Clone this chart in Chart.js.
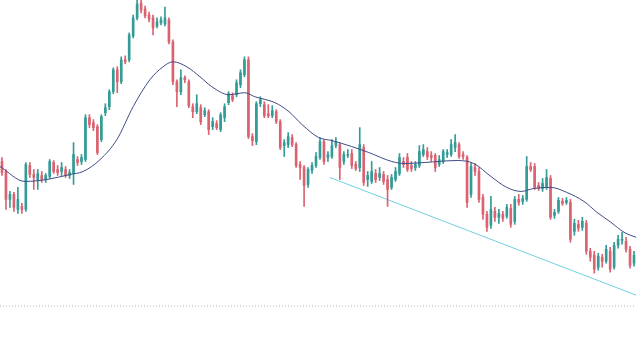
<!DOCTYPE html>
<html>
<head>
<meta charset="utf-8">
<script src="https://cdn.jsdelivr.net/npm/chart.js@4/dist/chart.umd.min.js"></script>
<style>
html,body{margin:0;padding:0;background:#fff;overflow:hidden}
#c{display:block}
</style>
</head>
<body>
<canvas id="c" width="636" height="339"></canvas>
<script>
// Candle OHLC values (price units), one per bar
const opens = [178,168,140,145,130,133,130,174,165,160,164,160,163,177,170,168,170,164,166,180,
178,180,222,217,213,200,227,233,248,270,258,280,280,304,322,337,331,325,322,314,
317,316,320,298,258,248,262,258,233,228,232,225,228,213,216,210,222,237,244,245,
255,265,280,203,198,236,235,226,224,228,218,194,195,202,195,175,172,155,169,174,
182,198,182,183,194,195,178,184,186,175,172,192,160,158,166,162,165,160,152,160,
166,178,182,174,172,174,185,188,184,184,175,178,185,185,192,195,185,182,145,172,
168,142,125,114,128,122,125,123,131,118,140,138,140,173,173,154,151,152,161,124,
128,138,137,137,108,115,112,116,88,84,72,82,78,88,72,94,99,98,90,76];
const highs = [182,170,148,147,152,136,177,177,170,170,168,166,180,179,174,177,173,170,197,183,
185,225,225,220,215,225,236,250,272,273,283,284,307,325,340,340,334,328,325,322,
323,333,322,300,260,270,264,260,236,245,235,232,230,222,219,227,236,248,247,260,
270,283,283,206,238,243,238,235,234,230,220,200,207,205,197,178,174,172,177,187,
202,200,188,200,202,197,188,190,190,178,212,195,168,178,170,172,168,164,165,172,
186,182,186,178,178,194,195,192,188,186,184,190,190,200,205,197,188,184,177,176,
172,145,128,143,132,130,128,135,135,143,145,144,183,177,176,157,161,170,164,130,
142,141,142,140,120,119,122,119,91,88,86,85,94,92,97,104,107,102,93,88];
const lows = [164,130,132,128,126,126,128,162,150,150,157,157,161,166,164,164,162,161,155,174,
175,178,212,209,185,198,224,230,246,247,256,276,278,302,320,327,322,318,305,312,
315,314,296,255,233,245,257,232,222,226,215,223,205,210,210,208,218,235,238,243,
252,263,201,194,195,233,222,222,222,216,190,183,192,193,172,160,133,152,166,172,
180,175,178,181,192,160,175,182,171,169,168,154,153,156,157,159,155,133,150,158,
164,172,168,168,169,172,183,180,178,168,173,176,182,183,188,181,180,132,142,164,
137,120,108,111,118,116,118,121,112,115,134,135,138,168,150,149,148,150,120,121,
126,134,135,97,104,108,109,85,78,66,69,72,76,67,70,91,95,87,71,73];
const closes = [167,140,145,132,140,130,175,165,162,166,160,164,178,168,167,172,164,167,185,177,
182,222,215,212,187,223,232,248,270,258,280,278,305,322,336,330,324,321,312,318,
320,322,298,258,248,262,260,234,228,236,218,229,210,218,212,225,233,246,240,257,
267,280,203,199,236,240,224,224,229,218,192,197,203,195,174,172,154,170,174,183,
198,178,185,194,198,172,185,185,174,171,195,157,164,168,160,166,158,150,162,168,
182,175,170,171,175,188,190,183,182,172,180,188,187,195,197,183,183,137,173,168,
140,125,112,130,122,126,121,132,115,140,137,141,173,170,152,151,156,162,122,127,
139,136,139,100,116,111,118,88,82,70,83,78,90,70,94,100,100,90,74,84];

// Moving average path (fractional candle index, price)
const maIndex = [-0.5,5.8,11.3,17.1,20.4,24.7,28.9,33,37.2,40.5,43,46.5,49.8,52.8,57.1,61.1,63.6,68.7,72.2,75.5,
79.7,83,88,92.3,98.1,101.4,106.2,114.5,118.7,123,127,130.6,133.8,138.1,142.1,146.4,149.7,153.2,156.5,159.5];
const maValues = [173,158,160,165,168,180,200,233,260,273,278,273,263,253,245,247,243,237,228,215,
202,199,193,187,178,176,177,179,176,163,152,148,151,152,147,138,127,117,107,102];

// Trend line endpoints
const trendIndex = [82.5,159.5];
const trendValues = [162,44];

// Horizontal dotted reference level
const refLevel = 33;

const UP = '#339c96';
const DOWN = '#db6270';

const n = closes.length;
const wickData = [], bodyData = [], colors = [];
for (let i = 0; i < n; i++) {
  wickData.push({x: i, y: [lows[i], highs[i]]});
  bodyData.push({x: i, y: [opens[i], closes[i]]});
  colors.push(closes[i] >= opens[i] ? UP : DOWN);
}
const maData = maIndex.map((x, k) => ({x, y: maValues[k]}));
const trendData = trendIndex.map((x, k) => ({x, y: trendValues[k]}));
const refData = [{x: -0.5, y: refLevel}, {x: n - 0.5, y: refLevel}];

new Chart(document.getElementById('c'), {
  type: 'bar',
  data: {
    datasets: [
      {type: 'line', data: refData, borderColor: '#b8b8b8', borderWidth: 1, borderDash: [1, 2], pointRadius: 0, order: 5},
      {type: 'line', data: trendData, borderColor: '#72cfe0', borderWidth: 1, pointRadius: 0, order: 4},
      {type: 'bar', data: wickData, backgroundColor: colors, barThickness: 1, grouped: false, order: 3},
      {type: 'bar', data: bodyData, backgroundColor: colors, barThickness: 2, minBarLength: 1, grouped: false, order: 2},
      {type: 'line', data: maData, borderColor: '#3d4c85', borderWidth: 1, pointRadius: 0, cubicInterpolationMode: 'monotone', order: 1}
    ]
  },
  options: {
    responsive: false,
    animation: false,
    layout: {padding: 0},
    plugins: {legend: {display: false}, tooltip: {enabled: false}},
    scales: {
      x: {type: 'linear', min: -0.5, max: n - 0.5, offset: false, display: false, bounds: 'ticks'},
      y: {min: 0, max: 340, display: false}
    }
  }
});
</script>
</body>
</html>
